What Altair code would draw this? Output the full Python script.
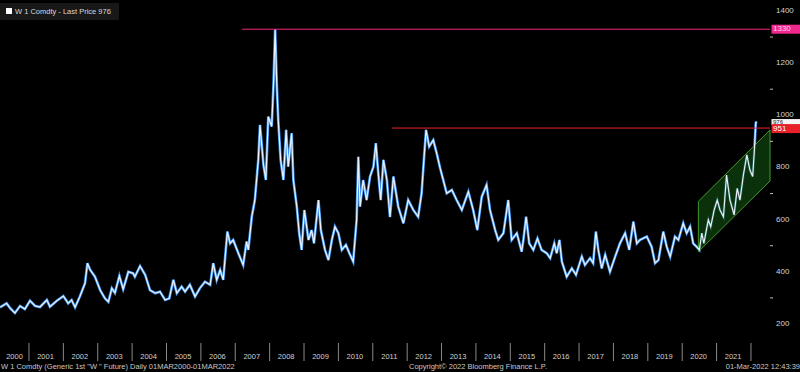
import altair as alt
import pandas as pd

# ---- data ----
years = [2000.16, 2000.35, 2000.45, 2000.59, 2000.74, 2000.88, 2001.03, 2001.18, 2001.32, 2001.52,
         2001.61, 2001.81, 2002.00, 2002.14, 2002.24, 2002.34, 2002.48, 2002.63, 2002.70, 2002.78,
         2002.92, 2003.07, 2003.21, 2003.31, 2003.41, 2003.50, 2003.63, 2003.74, 2003.89, 2004.03,
         2004.08, 2004.23, 2004.38, 2004.52, 2004.67, 2004.81, 2004.96, 2005.08, 2005.20, 2005.30,
         2005.44, 2005.54, 2005.68, 2005.83, 2005.97, 2006.12, 2006.27, 2006.36, 2006.46, 2006.56,
         2006.65, 2006.77, 2006.85, 2006.94, 2007.09, 2007.23, 2007.33, 2007.38, 2007.48, 2007.57,
         2007.67, 2007.72, 2007.82, 2007.89, 2007.96, 2008.06, 2008.11, 2008.16, 2008.21, 2008.25,
         2008.32, 2008.40, 2008.48, 2008.54, 2008.64, 2008.69, 2008.79, 2008.86, 2008.93, 2009.01,
         2009.13, 2009.22, 2009.29, 2009.42, 2009.49, 2009.61, 2009.71, 2009.81, 2009.90, 2010.00,
         2010.10, 2010.22, 2010.32, 2010.43, 2010.53, 2010.58, 2010.63, 2010.72, 2010.82, 2010.92,
         2011.02, 2011.09, 2011.16, 2011.23, 2011.31, 2011.41, 2011.50, 2011.60, 2011.74, 2011.89,
         2012.03, 2012.18, 2012.32, 2012.42, 2012.50, 2012.55, 2012.64, 2012.76, 2012.86, 2012.96,
         2013.05, 2013.15, 2013.30, 2013.44, 2013.59, 2013.78, 2013.92, 2014.04, 2014.17, 2014.31,
         2014.41, 2014.56, 2014.65, 2014.80, 2014.94, 2015.04, 2015.19, 2015.33, 2015.38, 2015.46,
         2015.55, 2015.67, 2015.79, 2015.91, 2016.06, 2016.16, 2016.28, 2016.35, 2016.43, 2016.50,
         2016.64, 2016.79, 2016.91, 2017.08, 2017.17, 2017.32, 2017.41, 2017.49, 2017.56, 2017.66,
         2017.76, 2017.90, 2018.05, 2018.19, 2018.34, 2018.46, 2018.58, 2018.68, 2018.77, 2018.97,
         2019.11, 2019.21, 2019.31, 2019.45, 2019.55, 2019.65, 2019.79, 2019.89, 2020.03, 2020.13,
         2020.23, 2020.32, 2020.42, 2020.50, 2020.57, 2020.63, 2020.76, 2020.83, 2020.93, 2021.02,
         2021.10, 2021.20, 2021.29, 2021.39, 2021.51, 2021.60, 2021.68, 2021.78, 2021.88, 2021.97,
         2022.05, 2022.10, 2022.14, 2022.16]

prices = [264, 279, 261, 242, 269, 257, 289, 269, 265, 292,
          266, 289, 307, 279, 292, 264, 305, 356, 433, 407,
          381, 330, 298, 285, 337, 319, 384, 333, 400, 394,
          381, 422, 388, 330, 318, 324, 292, 298, 369, 318,
          343, 324, 350, 305, 337, 362, 350, 433, 369, 407,
          369, 554, 509, 522, 471, 426, 516, 484, 611, 675,
          829, 963, 810, 752, 995, 957, 1110, 1330, 1110, 982,
          829, 752, 944, 803, 931, 752, 650, 548, 484, 637,
          522, 560, 509, 675, 560, 484, 445, 522, 573, 548,
          484, 503, 471, 439, 599, 841, 650, 752, 675, 765,
          803, 893, 778, 675, 829, 752, 610, 765, 650, 586,
          675, 637, 611, 701, 854, 944, 880, 905, 854, 797,
          752, 701, 714, 675, 637, 707, 637, 560, 688, 733,
          637, 560, 522, 548, 675, 522, 548, 477, 522, 611,
          509, 484, 528, 484, 471, 452, 509, 471, 522, 439,
          381, 413, 388, 458, 426, 452, 433, 554, 484, 413,
          465, 400, 458, 509, 548, 484, 592, 509, 522, 535,
          496, 433, 445, 554, 496, 458, 535, 522, 586, 548,
          573, 509, 496, 484, 548, 509, 599, 573, 637, 675,
          637, 611, 771, 675, 618, 720, 675, 771, 848, 790,
          765, 867, 970, 976]

level_values = [1330, 951]
level_starts = [2007.20, 2011.56]

channel_x = [2020.47, 2022.554]
channel_low = [477, 748]
channel_high = [670, 944]

tag_values = [1330, 976, 951]
tag_labels = ["1330", "976", "951"]

year_labels = [str(y) for y in range(2000, 2022)]
year_bounds = list(range(2001, 2023))
y_ticks = [200, 400, 600, 800, 1000, 1200, 1400]
y_minor = [300, 500, 700, 900, 1100, 1300]

legend_text = "W 1 Comdty - Last Price 976"
footer_left = 'W 1 Comdty (Generic 1st "W " Future)  Daily 01MAR2000-01MAR2022'
footer_mid = "Copyright\u00a9 2022 Bloomberg Finance L.P."
footer_right = "01-Mar-2022 12:43:39"

# ---- scales ----
XDOM = [2000.157, 2022.554]
YDOM = [127, 1442]
FONT = "Liberation Sans"
xs = alt.Scale(domain=XDOM, nice=False, zero=False)
ys = alt.Scale(domain=YDOM, nice=False, zero=False)


def X(f):
    return alt.X(f, type="quantitative", scale=xs, axis=None)


def Y(f):
    return alt.Y(f, type="quantitative", scale=ys, axis=None)


series = pd.DataFrame({"year": years, "price": prices})

main_blue = alt.Chart(series).mark_line(color="#3a8fe8", strokeWidth=2.7).encode(
    x=alt.X("year:Q", scale=xs,
            axis=alt.Axis(labels=False, ticks=False, grid=False, title=None,
                          domain=True, domainColor="#777777", domainWidth=1)),
    y=alt.Y("price:Q", scale=ys,
            axis=alt.Axis(orient="right", values=y_ticks, grid=False, title=None,
                          labels=False, tickColor="#bbbbbb", tickSize=4,
                          domainColor="#bbbbbb", domainWidth=1)),
)
main_white = alt.Chart(series).mark_line(color="#f4f8ff", strokeWidth=1.2, opacity=0.95).encode(
    x=X("year"), y=Y("price"))

chan = pd.DataFrame({"year": channel_x, "low": channel_low, "high": channel_high})
channel = alt.Chart(chan).mark_area(fill="#0e420e", fillOpacity=0.75, stroke="#44982f",
                                    strokeWidth=1).encode(
    x=X("year"), y=Y("low"), y2="high")

lv = pd.DataFrame({"start": level_starts, "value": level_values, "end": [XDOM[1]] * 2})
lines_pink = alt.Chart(lv.iloc[[0]]).mark_rule(color="#f0287a", strokeWidth=1).encode(
    x=X("start"), x2="end", y=Y("value"))
lines_red = alt.Chart(lv.iloc[[1]]).mark_rule(color="#f02028", strokeWidth=1).encode(
    x=X("start"), x2="end", y=Y("value"))

minor = alt.Chart(pd.DataFrame({"v": y_minor})).mark_rule(color="#bbbbbb").encode(
    x=alt.value(770), x2=alt.value(773), y=Y("v"))

ylabels = alt.Chart(pd.DataFrame({"v": y_ticks, "t": [str(v) for v in y_ticks]})).mark_text(
    align="left", baseline="middle", color="#d4d4d4", fontSize=8, font=FONT).encode(
    x=alt.value(776), y=Y("v"), text="t:N")

tags = pd.DataFrame({"v": tag_values, "t": tag_labels})
# (background, text colour, box height, text size, vertical shift)
tag_styles = [("#f0288c", "#ffd6ec", 9, 8, 0),
              ("#f4f4f4", "#222222", 6, 6, 0.5),
              ("#e8202a", "#ffffff", 9, 8, 0.5)]
tag_layers = []
for i, (bg, fg, th, fs, dy) in enumerate(tag_styles):
    d = tags.iloc[[i]]
    tag_layers.append(alt.Chart(d).mark_tick(orient="horizontal", color=bg, opacity=1,
                                             thickness=th, size=29, yOffset=dy).encode(
        x=alt.value(786), y=Y("v")))
    tag_layers.append(alt.Chart(d).mark_text(align="left", baseline="middle", color=fg,
                                             fontSize=fs, font=FONT, dy=dy).encode(
        x=alt.value(773), y=Y("v"), text="t:N"))

label_pos = [(XDOM[0] + y + 1) / 2 if y == 2000 else y + 0.48 for y in range(2000, 2022)]
ylab = pd.DataFrame({"pos": label_pos, "lab": year_labels})
year_text = alt.Chart(ylab).mark_text(color="#d0d0d0", fontSize=7.5, font=FONT,
                                      baseline="middle").encode(
    x=X("pos"), y=alt.value(357), text="lab:N")
year_ticks = alt.Chart(pd.DataFrame({"b": year_bounds})).mark_rule(color="#8a8a8a").encode(
    x=X("b"), y=alt.value(343), y2=alt.value(361))

legend_bg = alt.Chart(pd.DataFrame({"a": [0]})).mark_rect(color="#181818").encode(
    x=alt.value(0), x2=alt.value(119), y=alt.value(3), y2=alt.value(20))
legend_sq = alt.Chart(pd.DataFrame({"a": [0]})).mark_rect(color="#ffffff").encode(
    x=alt.value(6), x2=alt.value(12), y=alt.value(8), y2=alt.value(14))
legend_tx = alt.Chart(pd.DataFrame({"t": [legend_text]})).mark_text(
    align="left", baseline="middle", color="#d8d8d8", fontSize=7.5, font=FONT).encode(
    x=alt.value(15), y=alt.value(11.5), text="t:N")

foot_l = alt.Chart(pd.DataFrame({"t": [footer_left]})).mark_text(
    align="left", baseline="middle", color="#c8c8c8", fontSize=7.5, font=FONT).encode(
    x=alt.value(1), y=alt.value(367), text="t:N")
foot_m = alt.Chart(pd.DataFrame({"t": [footer_mid]})).mark_text(
    align="left", baseline="middle", color="#c8c8c8", fontSize=7.5, font=FONT).encode(
    x=alt.value(409), y=alt.value(367), text="t:N")
foot_r = alt.Chart(pd.DataFrame({"t": [footer_right]})).mark_text(
    align="right", baseline="middle", color="#c8c8c8", fontSize=7.5, font=FONT).encode(
    x=alt.value(800), y=alt.value(367), text="t:N")

chart = alt.layer(
    main_blue, channel, main_white, lines_pink, lines_red, minor, ylabels,
    year_ticks, year_text, legend_bg, legend_sq, legend_tx,
    foot_l, foot_m, foot_r, *tag_layers
).properties(
    width=770, height=343,
    autosize=alt.AutoSizeParams(type="none"),
    padding={"left": 0, "top": 0, "right": 30, "bottom": 29},
    background="#000000",
).configure_view(stroke=None)

chart.save("out.html", embed_options={"renderer": "svg", "actions": False})
